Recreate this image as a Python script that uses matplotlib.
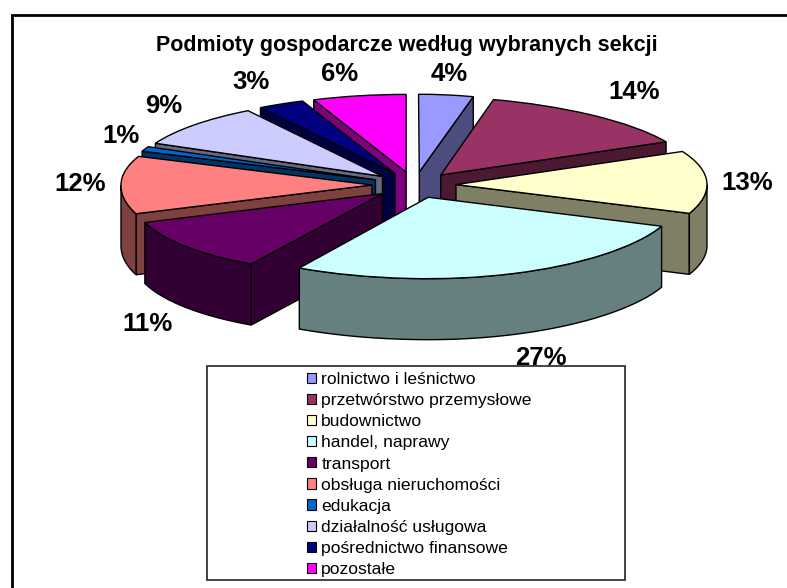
# Podmioty gospodarcze - exploded 3D pie drawn on a pixel sized axes
import numpy as np
import matplotlib
matplotlib.use('Agg')
import matplotlib.pyplot as plt
from matplotlib.patches import Patch, Rectangle
from matplotlib.transforms import Transform

plt.rcParams['font.family'] = ['Liberation Sans', 'DejaVu Sans']

title = 'Podmioty gospodarcze według wybranych sekcji'
sections = ['rolnictwo i leśnictwo', 'przetwórstwo przemysłowe', 'budownictwo', 'handel, naprawy',
            'transport', 'obsługa nieruchomości', 'edukacja', 'działalność usługowa',
            'pośrednictwo finansowe', 'pozostałe']
shares = [4, 14, 13, 27, 11, 12, 1, 9, 3, 6]

top_colors = ['#9999FF', '#993366', '#FFFFCC', '#CCFFFF', '#660066',
              '#FF8080', '#0066CC', '#CCCCFF', '#000080', '#FF00FF']
side_colors = ['#4C4C7F', '#4C1933', '#7F7F66', '#667F7F', '#330033',
               '#7F4040', '#003366', '#66667F', '#000040', '#7F007F']

# label centres, in pixels from the top left corner of the picture
label_pos = [(449, 74), (634, 92), (747, 183), (541, 358), (148, 324),
             (80, 184), (121, 136), (164, 106), (251, 82), (340, 74)]

W, H = 787, 588
pie_r = 251
pie_x, pie_y = 414, H - 185
tilt = 0.31
far_shrink = 0.075
near_stretch = 0.07
depth = 61
explode = 42


class PieView(Transform):
    # squash the flat pie into its tilted view, with a rough perspective:
    # far right side narrower, near left side wider
    input_dims = output_dims = 2

    def transform_non_affine(self, values):
        values = np.asarray(values, dtype=float)
        x, y = values[:, 0], values[:, 1]
        far = np.clip(y, 0, None) / pie_r
        near = np.clip(-y, 0, None) / pie_r
        scale = np.where(x > 0, 1 - far_shrink * far ** 4, 1 + near_stretch * near ** 2)
        return np.column_stack([pie_x + x * scale, pie_y + y * tilt * (1 + 0.03 * near ** 2)])


view = PieView()

fig = plt.figure(figsize=(W / 100, H / 100), dpi=100)
ax = fig.add_axes([0, 0, 1, 1])

wedges, _ = ax.pie(shares, colors=top_colors, startangle=90, counterclock=False, radius=pie_r,
                   explode=[explode] * len(shares),
                   wedgeprops={'edgecolor': 'black', 'linewidth': 1})
ax.set_aspect('auto')
ax.set_xlim(0, W)
ax.set_ylim(0, H)
ax.axis('off')


def wall(points, color, zorder):
    # extrude a run of top surface points straight down
    top = view.transform(np.array(points))
    low = top - [0, depth]
    ax.fill(np.r_[top[:, 0], low[::-1, 0]], np.r_[top[:, 1], low[::-1, 1]],
            facecolor=color, edgecolor='black', linewidth=1, zorder=zorder)


# painter order, far slices first
mid = [np.radians((w.theta1 + w.theta2) / 2) for w in wedges]
order = np.argsort([-np.sin(m) for m in mid])
for rank, idx in enumerate(order):
    w = wedges[idx]
    cx, cy = w.center
    base = 2 + rank
    t1, t2 = np.radians(w.theta1), np.radians(w.theta2)

    # only the faces turned to the viewer are drawn
    if np.sin(t1 - np.pi / 2) < 0:
        wall([(cx, cy), (cx + w.r * np.cos(t1), cy + w.r * np.sin(t1))], side_colors[idx], base)
    if np.sin(t2 + np.pi / 2) < 0:
        wall([(cx, cy), (cx + w.r * np.cos(t2), cy + w.r * np.sin(t2))], side_colors[idx], base + 0.1)
    arc = np.linspace(t1, t2, 240)
    arc = arc[np.sin(arc) <= 0]
    if len(arc) > 1:
        wall(np.column_stack([cx + w.r * np.cos(arc), cy + w.r * np.sin(arc)]), side_colors[idx], base + 0.2)

    w.set_transform(view + ax.transData)
    w.set_zorder(base + 0.5)

# chart frame, only the left and top edges are inside the picture
ax.plot([12, 12, W], [0, H - 15, H - 15], color='black', linewidth=2, solid_joinstyle='miter', zorder=1)

ax.text(406.5, H - 45, title, fontsize=15.5, fontweight='bold', ha='center', va='center', zorder=30)

for val, (lx, ly) in zip(shares, label_pos):
    ax.text(lx, H - ly, f'{val}%', fontsize=18.5, fontweight='bold', ha='center', va='center', zorder=30)

# legend sits on a box that hides the bottom of the 27% label
ax.add_patch(Rectangle((206.5, H - 580), 418.5, 214, facecolor='white', edgecolor='#222222',
                       linewidth=1.2, zorder=40))
handles = [Patch(facecolor=c, edgecolor='black', linewidth=0.8) for c in top_colors]
leg = ax.legend(handles, sections, loc='upper left', bbox_to_anchor=(307 / W, 1 - 372 / H), frameon=False,
                fontsize=12.6, handlelength=0.52, handleheight=0.52, handletextpad=0.3, labelspacing=0.35,
                borderpad=0, borderaxespad=0)
leg.set_zorder(50)

fig.savefig('out.png', dpi=100)
